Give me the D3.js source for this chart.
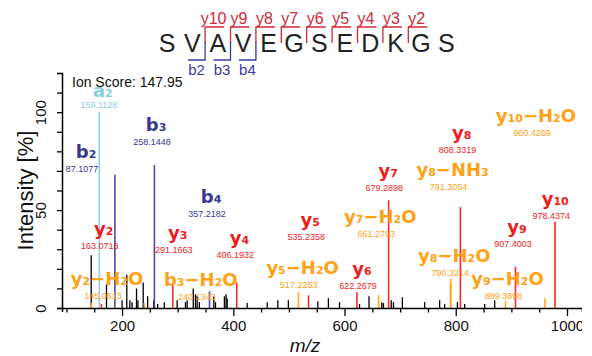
<!DOCTYPE html>
<html>
<head>
<meta charset="utf-8">
<script src="https://cdn.jsdelivr.net/npm/d3@7"></script>
<style>
  body { margin: 0; background: #fff; }
  svg { display: block; font-family: "Liberation Sans", Arial, sans-serif; }
</style>
</head>
<body>
<script>
// peptide and fragment coverage
const sequence = ["S","V","A","V","E","G","S","E","D","K","G","S"];
const yFragLabels = ["y10","y9","y8","y7","y6","y5","y4","y3","y2"];
const yFragCuts = [2,3,4,5,6,7,8,9,10];
const bFragLabels = ["b2","b3","b4"];
const bFragCuts = [2,3,4];
const ionScore = "Ion Score: 147.95";

// annotated peaks
const ionNames = ["a2","b2","b3","b4","y2","y3","y4","y5","y6","y7","y8","y9","y10",
  "y2-H2O","b3-H2O","y5-H2O","y7-H2O","y8-H2O","y8-NH3","y9-H2O","y10-H2O"];
const ionMz = [159.1128,187.1077,258.1448,357.2182,163.0718,291.1663,406.1932,535.2358,622.2679,
  679.2898,808.3319,907.4003,978.4374,145.0613,240.1343,517.2253,661.2793,790.3214,791.3054,889.3898,960.4269];
const ionValueText = ["159.1128","87.1077","258.1448","357.2182","163.0718","291.1663","406.1932","535.2358",
  "622.2679","679.2898","808.3319","907.4003","978.4374","145.0613","240.1343","517.2253","661.2793",
  "790.3214","791.3054","889.3898","960.4269"];
const ionIntensity = [100,68,73,8.5,2,13,13,6.5,8,55,51.5,21,44,2.5,2.5,8,6.5,13,15,3.5,5];
// where each label sits (m/z, intensity)
const labelMz = [161.9,131.7,257.5,356.4,163.3,296.4,407.3,534.9,627.8,675.1,806.9,906.5,975.3,
  169.3,338,521.1,660.7,793.8,790.7,889.6,940.6];
const labelInt = [101.9,69.3,83.2,46.3,30.2,28.0,25.4,34.7,9.6,59.6,79.3,31.4,45.3,
  4.5,4.1,10.1,36.1,16.4,60.3,4.5,87.8];

// unassigned peaks
const otherMz = [144.5,172,200,208.5,214,218,226,228.5,238,246,257,264,276,299,314,317,328,332,335,339,
  365,368,384,387,389,425,461,480,499,552,571,591,627,644,667,670,684,688,704,744,771,780,803,816,852,870];
const otherInt = [27,12,4,17,4,3,10,4,13,6,4,2,3,4,3,4,10,7,6,3,
  6,3,6,7,5,2.5,3,4,4,3.5,5,3,2,6,3,2.5,4,3,5.5,3,4,2,3,2,2,4];

const xTicks = d3.range(100, 1001, 50);
const yTicks = d3.range(0, 111, 10);

const colours = {
  a: { line: "#8fcfe0", text: "#8ccbe0" },
  b: { line: "#4b4ba5", text: "#38388c" },
  y: { line: "#ff2626", text: "#f01c1c" },
  loss: { line: "#ffa826", text: "#ffa216" }
};
const ionType = n => n.includes("-") ? "loss" : n[0];

const width = 582, height = 356;
const svg = d3.select("body").append("svg")
  .attr("width", width)
  .attr("height", height);

const x = d3.scaleLinear().domain([92, 1027]).range([62, 582]);
const y = d3.scaleLinear().domain([0, 120]).range([308, 73]);

// ---- sequence header ----
const seqX = d3.scaleLinear().domain([0, sequence.length - 1]).range([167, 446.4]);
const step = seqX(1) - seqX(0);

svg.selectAll("text.residue")
  .data(sequence)
  .enter()
  .append("text")
  .attr("class", "residue")
  .attr("x", (d, i) => seqX(i))
  .attr("y", 52)
  .attr("text-anchor", "middle")
  .style("font-size", "25px")
  .style("fill", "#222")
  .text(d => d);

const seqRed = "#d02a3a", seqBlue = "#3a3aa0";

yFragCuts.forEach((k, i) => {
  const bx = seqX(k - 1) + step / 2;
  svg.append("path")
    .attr("d", `M${bx},43V27H${bx + 19}`)
    .attr("fill", "none")
    .attr("stroke", seqRed)
    .attr("stroke-width", 1.3);
  svg.append("text")
    .attr("x", bx + 8.5)
    .attr("y", 24)
    .attr("text-anchor", "middle")
    .style("font-size", "16px")
    .style("fill", seqRed)
    .text(yFragLabels[i]);
});

bFragCuts.forEach((k, i) => {
  const bx = seqX(k - 1) + step / 2;
  svg.append("path")
    .attr("d", `M${bx},42V60H${bx - 17}`)
    .attr("fill", "none")
    .attr("stroke", seqBlue)
    .attr("stroke-width", 1.3);
  svg.append("text")
    .attr("x", bx - 8.5)
    .attr("y", 75)
    .attr("text-anchor", "middle")
    .style("font-size", "15px")
    .style("fill", seqBlue)
    .text(bFragLabels[i]);
});

// ---- axes labels ----
svg.append("text")
  .attr("x", 72)
  .attr("y", 86.5)
  .style("font-size", "14px")
  .style("fill", "#111")
  .text(ionScore);

svg.append("text")
  .attr("transform", `translate(33,${(y(0) + y(120)) / 2}) rotate(-90)`)
  .attr("text-anchor", "middle")
  .style("font-size", "22px")
  .style("fill", "#111")
  .text("Intensity [%]");

svg.append("text")
  .attr("x", 305)
  .attr("y", 352)
  .attr("text-anchor", "middle")
  .style("font-size", "19px")
  .style("font-style", "italic")
  .style("fill", "#111")
  .text("m/z");

// ---- peaks ----
const others = otherMz.map((m, i) => ({ mz: m, v: otherInt[i] }));
svg.selectAll("line.peak")
  .data(others)
  .enter()
  .append("line")
  .attr("class", "peak")
  .attr("x1", d => x(d.mz)).attr("x2", d => x(d.mz))
  .attr("y1", y(0)).attr("y2", d => y(d.v))
  .attr("stroke", "#000")
  .attr("stroke-width", 1.3);

const ions = ionNames.map((n, i) => ({
  name: n, mz: ionMz[i], v: ionIntensity[i], value: ionValueText[i],
  lmz: labelMz[i], lv: labelInt[i], type: ionType(n)
}));

svg.selectAll("line.ion")
  .data(ions)
  .enter()
  .append("line")
  .attr("class", "ion")
  .attr("x1", d => x(d.mz)).attr("x2", d => x(d.mz))
  .attr("y1", y(0)).attr("y2", d => y(d.v))
  .attr("stroke", d => colours[d.type].line)
  .attr("stroke-width", 1.6);

// ---- axes ----
const xAxis = d3.axisBottom(x)
  .tickValues(xTicks)
  .tickSizeOuter(0)
  .tickSize(4)
  .tickFormat(d => d % 200 === 0 ? d : "");

const gx = svg.append("g")
  .attr("transform", `translate(0,${y(0)})`)
  .call(xAxis);
gx.selectAll(".tick line")
  .attr("y2", d => d % 200 === 0 ? 8 : 4.5)
  .attr("stroke-width", 1.3);
gx.select(".domain").attr("stroke-width", 1.5);
gx.selectAll("text")
  .attr("y", 12)
  .style("font-size", "15px")
  .style("font-family", "'Liberation Sans', Arial, sans-serif")
  .style("fill", "#111");

const yAxis = d3.axisLeft(y)
  .tickValues(yTicks)
  .tickSizeOuter(0)
  .tickSize(5)
  .tickFormat(d => d % 50 === 0 ? d : "");

const gy = svg.append("g")
  .attr("transform", `translate(${x.range()[0]},0)`)
  .call(yAxis);
gy.select(".domain").attr("stroke-width", 1.5);
gy.selectAll(".tick line").attr("stroke-width", 1.3);
gy.selectAll("text")
  .attr("transform", "rotate(-90)")
  .attr("x", 0)
  .attr("y", -16.5)
  .attr("dy", 0)
  .attr("text-anchor", "middle")
  .style("font-size", "15px")
  .style("font-family", "'Liberation Sans', Arial, sans-serif")
  .style("fill", "#111");

// ---- ion labels ----
const labels = svg.selectAll("g.ionLabel")
  .data(ions)
  .enter()
  .append("g")
  .attr("class", "ionLabel");

// a-ion name has no ascender, it sits a little lower over its value
labels.append("text")
  .attr("x", d => x(d.lmz) + 2)
  .attr("y", d => y(d.lv) - (d.type === "a" ? 11.5 : 14))
  .attr("text-anchor", "middle")
  .style("font-family", "'DejaVu Sans', Verdana, sans-serif")
  .style("font-weight", "bold")
  .style("fill", d => colours[d.type].text)
  .each(function(d) {
    const t = d3.select(this);
    d.name.replace("-", "\u2212").split(/(\d+)/).filter(s => s !== "").forEach(p => {
      t.append("tspan")
        .style("font-size", /^\d+$/.test(p) ? "11px" : "18px")
        .text(p);
    });
  });

labels.append("text")
  .attr("x", d => x(d.lmz) - 2)
  .attr("y", d => y(d.lv))
  .attr("text-anchor", "middle")
  .style("font-size", "9px")
  .style("fill", d => colours[d.type].text)
  .text(d => d.value);
</script>
</body>
</html>
